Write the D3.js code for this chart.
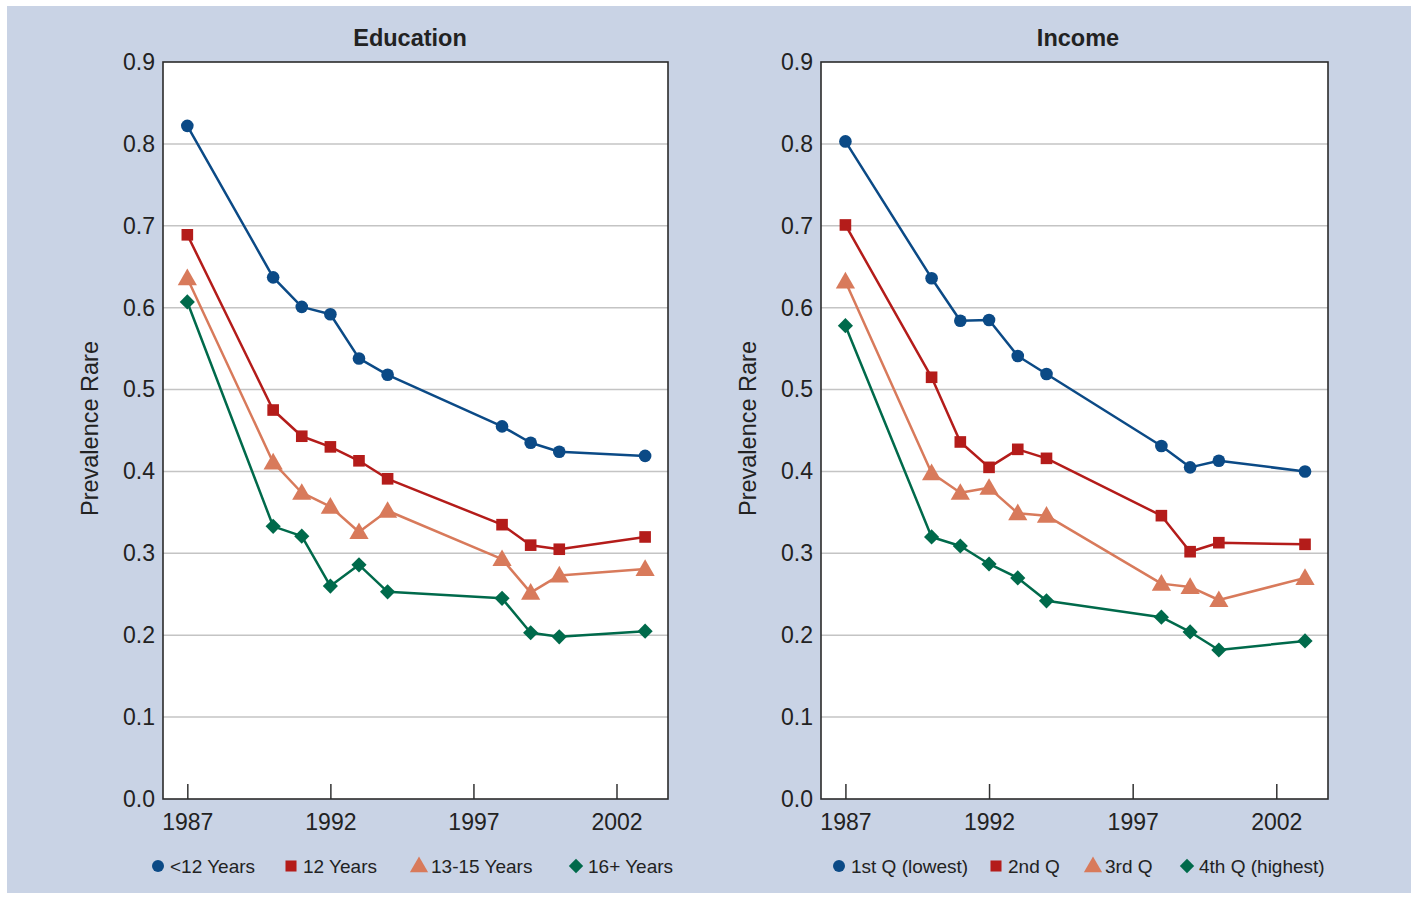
<!DOCTYPE html>
<html>
<head>
<meta charset="utf-8">
<script src="https://cdn.jsdelivr.net/npm/d3@7"></script>
<style>
  html, body { margin: 0; padding: 0; background: #ffffff; }
  svg { display: block; font-family: "Liberation Sans", Arial, Helvetica, sans-serif; }
</style>
</head>
<body>
<svg id="chart" width="1418" height="899"></svg>
<script>
// ---------- DATA ----------
const years = [1987, 1990, 1991, 1992, 1993, 1994, 1998, 1999, 2000, 2003];
const xTicks = [1987, 1992, 1997, 2002];
const yTicks = [0.0, 0.1, 0.2, 0.3, 0.4, 0.5, 0.6, 0.7, 0.8, 0.9];

const eduNames = ["<12 Years", "12 Years", "13-15 Years", "16+ Years"];
const eduLt12  = [0.822, 0.637, 0.601, 0.592, 0.538, 0.518, 0.455, 0.435, 0.424, 0.419];
const edu12    = [0.689, 0.475, 0.443, 0.430, 0.413, 0.391, 0.335, 0.310, 0.305, 0.320];
const edu1315  = [0.636, 0.411, 0.374, 0.357, 0.326, 0.352, 0.293, 0.252, 0.273, 0.281];
const edu16    = [0.607, 0.333, 0.321, 0.260, 0.286, 0.253, 0.245, 0.203, 0.198, 0.205];

const incNames = ["1st Q (lowest)", "2nd Q", "3rd Q", "4th Q (highest)"];
const inc1 = [0.803, 0.636, 0.584, 0.585, 0.541, 0.519, 0.431, 0.405, 0.413, 0.400];
const inc2 = [0.701, 0.515, 0.436, 0.405, 0.427, 0.416, 0.346, 0.302, 0.313, 0.311];
const inc3 = [0.632, 0.398, 0.374, 0.380, 0.349, 0.346, 0.263, 0.259, 0.243, 0.270];
const inc4 = [0.578, 0.320, 0.309, 0.287, 0.270, 0.242, 0.222, 0.204, 0.182, 0.193];

const colors = ["#0b4a86", "#b41c1a", "#d87a5b", "#006a4b"];
const shapes = [d3.symbolCircle, d3.symbolSquare, d3.symbolTriangle, d3.symbolSquare];
const rotations = [0, 0, 0, 45];
const symSizes = [125, 135, 160, 115];

// ---------- LAYOUT ----------
const svg = d3.select("#chart");
svg.append("rect").attr("x", 7).attr("y", 6).attr("width", 1404).attr("height", 887).attr("fill", "#c9d3e5");

const panels = [
  { title: "Education", titleX: 410, left: 163, right: 668, names: eduNames, series: [eduLt12, edu12, edu1315, edu16],
    legendX: [158, 291, 419, 576] },
  { title: "Income", titleX: 1078, left: 821, right: 1328, names: incNames, series: [inc1, inc2, inc3, inc4],
    legendX: [839, 996, 1093, 1187] }
];
const plotTop = 62, plotBottom = 799;

panels.forEach(p => {
  const x = d3.scaleLinear().domain([1986.15, 2003.8]).range([p.left, p.right]);
  const y = d3.scaleLinear().domain([0, 0.9]).range([plotBottom, plotTop]);
  const g = svg.append("g");

  g.append("rect").attr("x", p.left).attr("y", plotTop).attr("width", p.right - p.left).attr("height", plotBottom - plotTop)
    .attr("fill", "#ffffff");

  // gridlines
  g.selectAll(".grid").data(yTicks.filter(v => v > 0 && v < 0.9)).enter().append("line")
    .attr("x1", p.left).attr("x2", p.right).attr("y1", d => y(d)).attr("y2", d => y(d))
    .attr("stroke", "#c4c4c4").attr("stroke-width", 1.5);

  // y axis labels
  const yAxis = d3.axisLeft(y).tickValues(yTicks).tickFormat(d3.format(".1f")).tickSize(0).tickPadding(8);
  const ya = g.append("g").attr("transform", `translate(${p.left},0)`).call(yAxis);
  ya.select(".domain").remove();
  ya.selectAll("text").attr("font-size", 23).attr("fill", "#222").attr("font-family", "Liberation Sans, Arial, sans-serif");

  // x axis (ticks inward)
  const xAxis = d3.axisBottom(x).tickValues(xTicks).tickFormat(d3.format("d")).tickSizeInner(-15).tickSizeOuter(0).tickPadding(15);
  const xa = g.append("g").attr("transform", `translate(0,${plotBottom})`).call(xAxis);
  xa.select(".domain").remove();
  xa.selectAll("line").attr("stroke", "#333").attr("stroke-width", 1.5);
  xa.selectAll("text").attr("font-size", 23).attr("fill", "#222").attr("font-family", "Liberation Sans, Arial, sans-serif");

  // frame
  g.append("rect").attr("x", p.left).attr("y", plotTop).attr("width", p.right - p.left).attr("height", plotBottom - plotTop)
    .attr("fill", "none").attr("stroke", "#2b2b2b").attr("stroke-width", 1.6);

  // title
  g.append("text").attr("x", p.titleX).attr("y", 46).attr("text-anchor", "middle")
    .attr("font-size", 23.5).attr("font-weight", "bold").attr("fill", "#222").text(p.title);

  // y label
  g.append("text").attr("transform", `translate(${p.left - 65},${(plotTop + plotBottom) / 2 - 2}) rotate(-90)`)
    .attr("text-anchor", "middle").attr("font-size", 23.5).attr("fill", "#222").text("Prevalence Rare");

  // series
  const line = d3.line().x((d, i) => x(years[i])).y(d => y(d));
  p.series.forEach((vals, si) => {
    g.append("path").datum(vals).attr("d", line).attr("fill", "none")
      .attr("stroke", colors[si]).attr("stroke-width", 2.5).attr("stroke-linejoin", "round");
  });
  p.series.forEach((vals, si) => {
    g.selectAll(null).data(vals).enter().append("path")
      .attr("d", d3.symbol().type(shapes[si]).size(symSizes[si]))
      .attr("transform", (d, i) => `translate(${x(years[i])},${y(d) + (si === 2 ? 1.5 : 0)}) rotate(${rotations[si]})`)
      .attr("fill", colors[si]);
  });

  // legend
  p.names.forEach((name, si) => {
    const lx = p.legendX[si], ly = 866;
    g.append("path").attr("d", d3.symbol().type(shapes[si]).size(symSizes[si] * 0.9))
      .attr("transform", `translate(${lx},${ly + (si === 2 ? 1 : 0)}) rotate(${rotations[si]})`).attr("fill", colors[si]);
    g.append("text").attr("x", lx + 12).attr("y", ly + 7).attr("font-size", 19).attr("fill", "#222").text(name);
  });
});
</script>
</body>
</html>
